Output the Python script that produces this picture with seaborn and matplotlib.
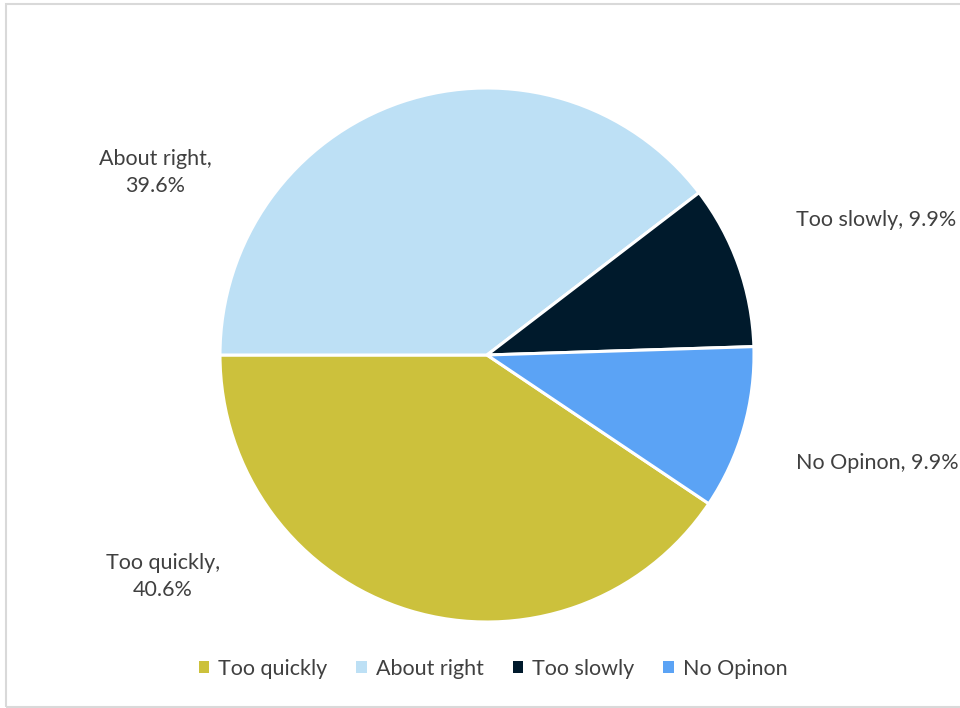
import matplotlib
matplotlib.use("Agg")
import matplotlib.pyplot as plt
import seaborn as sns
from matplotlib.patches import Rectangle, Patch

sns.set_theme(style="white")
plt.rcParams['font.family'] = ['Lato', 'DejaVu Sans']

categories = ["Too quickly", "About right", "Too slowly", "No Opinon"]
values = [40.6, 39.6, 9.9, 9.9]
colors = ["#CCC13C", "#BDE0F5", "#001A2C", "#5BA3F5"]
label_texts = ["Too quickly,\n40.6%", "About right,\n39.6%", "Too slowly, 9.9%", "No Opinon, 9.9%"]
# label anchor offsets relative to pie centre (in radius units)
label_pos = [(-1.213, -0.831), (-1.243, 0.685), (1.457, 0.506), (1.461, -0.404)]

W, H = 960, 708
fig = plt.figure(figsize=(W / 100, H / 100), dpi=100)
ax = fig.add_axes([0, 0, 1, 1])

cx, cy, r = 487, 355, 267
start = 180 + values[0] / sum(values) * 360
wedges, _ = ax.pie(values, colors=colors, startangle=start, counterclock=False,
                   wedgeprops=dict(edgecolor="white", linewidth=2.2), radius=1.0)
ax.set_xlim(-cx / r, (W - cx) / r)
ax.set_ylim(-(H - cy) / r, cy / r)
ax.set_aspect('auto')
ax.axis('off')

for txt, (x, y) in zip(label_texts, label_pos):
    ax.text(x, y, txt, ha="center", va="center", fontsize=15.5, color="#404040",
            linespacing=1.45)

handles = [Patch(facecolor=c, edgecolor="none") for c in colors]
fig.legend(handles, categories, loc="center", bbox_to_anchor=(493 / W, 1 - 669 / H),
           ncol=4, frameon=False, fontsize=15.5, handlelength=0.5, handleheight=0.5,
           handletextpad=0.4, columnspacing=1.35, labelcolor="#404040")

fig.patches.append(Rectangle((6 / W, 1.5 / H), 1.2, 1 - 5.5 / H, transform=fig.transFigure,
                             fill=False, edgecolor="#D9D9D9", linewidth=1.5))

fig.savefig("out.png", dpi=100, facecolor="white")
